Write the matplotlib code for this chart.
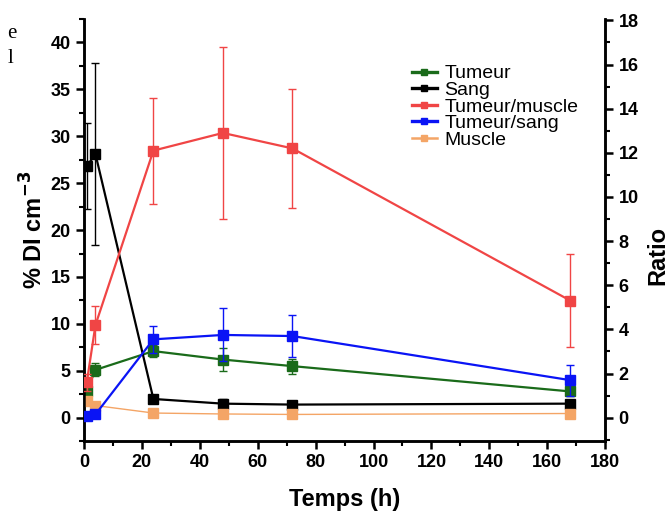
import matplotlib.pyplot as plt
from matplotlib.lines import Line2D
from matplotlib.ticker import MultipleLocator

# time points (h)
TIMES = [1, 4, 24, 48, 72, 168]

# % DI cm-3 (left axis)
TUMEUR = [2.9, 5.1, 7.1, 6.2, 5.5, 2.8]
TUMEUR_ERR = [0.5, 0.7, 0.6, 1.2, 0.8, 0.5]
SANG = [26.8, 28.1, 2.0, 1.5, 1.4, 1.5]
SANG_ERR = [4.6, 9.7, 0.3, 0.5, 0.3, 0.3]
MUSCLE = [1.8, 1.3, 0.5, 0.4, 0.35, 0.45]
MUSCLE_ERR = [0.2, 0.2, 0.1, 0.1, 0.1, 0.1]

# ratios (right axis)
T_MUSCLE = [1.6, 4.2, 12.1, 12.9, 12.2, 5.3]
T_MUSCLE_ERR = [0.4, 0.85, 2.4, 3.9, 2.7, 2.1]
T_SANG = [0.1, 0.15, 3.55, 3.75, 3.7, 1.7]
T_SANG_ERR = [0.05, 0.05, 0.6, 1.2, 0.95, 0.7]

LABELS = ["Tumeur", "Sang", "Tumeur/muscle", "Tumeur/sang", "Muscle"]

GREEN = "#1a6b1a"
BLACK = "#000000"
RED = "#f04545"
BLUE = "#0a14f5"
ORANGE = "#f4a566"

plt.rcParams["font.family"] = ["Liberation Sans", "DejaVu Sans"]

fig = plt.figure(figsize=(6.71, 5.13), dpi=100)
ax = fig.add_axes((0.125, 0.140, 0.777, 0.823))
ax2 = ax.twinx()


def draw(axis, y, err, color, lw=1.6, ms=7, z=3):
    axis.errorbar(TIMES, y, yerr=err, color=color, marker="s", markersize=ms,
                  linewidth=lw, elinewidth=1.0, capsize=3, capthick=1.0, zorder=z)
    return Line2D([], [], color=color, marker="s", markersize=5, linewidth=lw + 0.8)


h1 = draw(ax, TUMEUR, TUMEUR_ERR, GREEN)
h2 = draw(ax, SANG, SANG_ERR, BLACK)
h5 = draw(ax, MUSCLE, MUSCLE_ERR, ORANGE, lw=1.0)
h3 = draw(ax2, T_MUSCLE, T_MUSCLE_ERR, RED)
h4 = draw(ax2, T_SANG, T_SANG_ERR, BLUE)

ax.set_xlim(0, 180)
ax.set_ylim(-2.5, 42.5)
ax2.set_ylim(-1.0625, 18.0625)

ax.xaxis.set_major_locator(MultipleLocator(20))
ax.xaxis.set_minor_locator(MultipleLocator(10))
ax.yaxis.set_major_locator(MultipleLocator(5))
ax.yaxis.set_minor_locator(MultipleLocator(2.5))
ax2.yaxis.set_major_locator(MultipleLocator(2))
ax2.yaxis.set_minor_locator(MultipleLocator(1))

for a in (ax, ax2):
    for s in a.spines.values():
        s.set_linewidth(1.8)
    a.spines["top"].set_visible(False)
    a.tick_params(which="major", direction="out", length=6, width=1.8, labelsize=13)
    a.tick_params(which="minor", direction="out", length=3.5, width=1.5)
    for lab in a.get_xticklabels() + a.get_yticklabels():
        lab.set_fontweight("bold")

ax.set_xlabel("Temps (h)", fontsize=17, fontweight="bold", labelpad=12)
ax.set_ylabel("% DI cm$^{\\mathbf{-3}}$", fontsize=17, fontweight="bold", labelpad=2)
ax2.set_ylabel("Ratio", fontsize=17, fontweight="bold", rotation=90)
ax2.yaxis.set_label_coords(1.078, 0.44)

ax.legend([h1, h2, h3, h4, h5], LABELS,
          loc="upper left", bbox_to_anchor=(0.615, 0.91), frameon=False,
          fontsize=14, handlelength=1.25, handletextpad=0.4, labelspacing=-0.05,
          borderaxespad=0)

# fragments of surrounding page text
fig.text(0.010, 0.935, "e", fontsize=15, family="Liberation Serif", va="center")
fig.text(0.012, 0.885, "l", fontsize=15, family="Liberation Serif", va="center")

fig.savefig("out.png", dpi=100)
